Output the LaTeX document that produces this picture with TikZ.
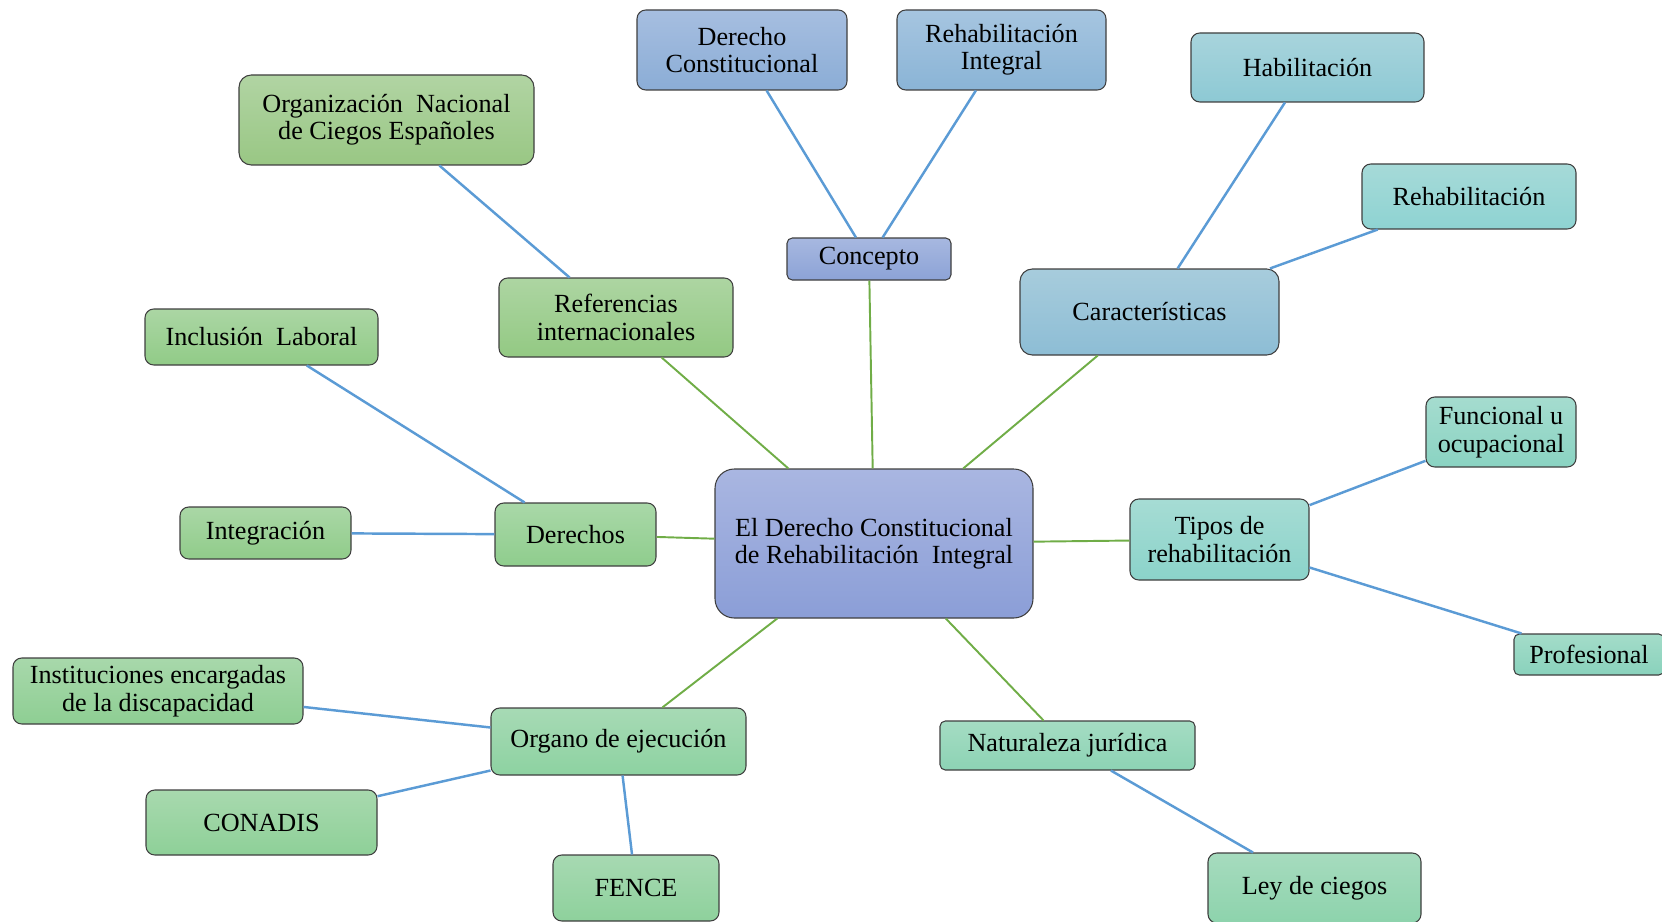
\documentclass[tikz,border=0pt]{standalone}
\usepackage{fontspec}
\setmainfont{Liberation Serif}

\definecolor{edgegray}{HTML}{3F3F3F}
\definecolor{trunkgreen}{HTML}{70AD47}
\definecolor{branchblue}{HTML}{5B9BD5}

\begin{document}
\begin{tikzpicture}[
            x=0.02cm, y=-0.02cm,
            box/.style={draw=edgegray, line width=0.6pt, rounded corners=5pt,
                align=center, inner sep=0pt,
                font=\fontsize{14.9}{15.6}\selectfont},
            sz/.style 2 args={minimum width=#1*0.02cm, minimum height=#2*0.02cm},
            fade/.style 2 args={/utils/exec={\definecolor{fadetop}{HTML}{#1}\definecolor{fadebot}{HTML}{#2}},
                top color=fadetop, bottom color=fadebot},
            trunk/.style={draw=trunkgreen, line width=1.1pt},
            branch/.style={draw=branchblue, line width=1.4pt},
        ]
            \useasboundingbox (0, 0) rectangle (1662, 922);
            \node[box, sz={318}{149}, rounded corners=11pt, fade={A9B6E1}{8B9ED7}] (root) at (874, 543.5) {El Derecho Constitucional\\de Rehabilitaci\'on\ \ Integral};
            \node[box, sz={164}{42}, rounded corners=3pt, fade={A7B8E0}{8CA3D6}] (concepto) at (869, 259) {Concepto};
            \node[box, sz={210}{80}, fade={A6BEE0}{8BADD6}] (dercons) at (742, 50) {Derecho\\Constitucional};
            \node[box, sz={209}{80}, fade={A6C5E0}{8AB4D6}] (rehint) at (1001.5, 50) {Rehabilitaci\'on\\Integral};
            \node[box, sz={259}{86}, rounded corners=7pt, fade={A7CCDC}{8DBDD5}] (caract) at (1149.5, 312) {Caracter\'isticas};
            \node[box, sz={233}{69}, fade={A8D4DC}{8DC9D4}] (habil) at (1307.5, 67.5) {Habilitaci\'on};
            \node[box, sz={214}{65}, fade={A6DAD8}{8ED3D2}] (rehab) at (1469, 196.5) {Rehabilitaci\'on};
            \node[box, sz={179}{81}, fade={A6DCD4}{8BD3CA}] (tipos) at (1219.5, 539.5) {Tipos de\\rehabilitaci\'on};
            \node[box, sz={150}{70}, fade={A5DCCF}{8AD3C2}] (funcional) at (1501, 432) {Funcional u\\ocupacional};
            \node[box, sz={150}{41}, rounded corners=3pt, fade={A4DCC9}{89D2BC}] (profesional) at (1589, 654.5) {Profesional};
            \node[box, sz={255}{49}, rounded corners=3pt, fade={A5DCC3}{8CD3B4}] (naturaleza) at (1067.5, 745.5) {Naturaleza jur\'idica};
            \node[box, sz={213}{70}, fade={A6DBBE}{8DD3AC}] (ley) at (1314.5, 888) {Ley de ciegos};
            \node[box, sz={255}{67}, fade={A7DAB5}{8DD2A1}] (organo) at (618.5, 741.5) {Organo de ejecuci\'on};
            \node[box, sz={166}{66}, fade={A7D9B2}{8ED19C}] (fence) at (636, 888) {FENCE};
            \node[box, sz={231}{65}, fade={A8D9AE}{8ED098}] (conadis) at (261.5, 822.5) {CONADIS};
            \node[box, sz={290}{66}, fade={A8D8AB}{8ECE93}] (instituciones) at (158, 691) {Instituciones encargadas\\de la discapacidad};
            \node[box, sz={161}{63}, fade={A9D8A8}{8FCD8D}] (derechos) at (575.5, 534.5) {Derechos};
            \node[box, sz={171}{52}, fade={AAD7A6}{90CC8A}] (integracion) at (265.5, 533) {Integraci\'on};
            \node[box, sz={233}{56}, fade={ABD6A4}{91CB87}] (inclusion) at (261.5, 337) {Inclusi\'on\ \ Laboral};
            \node[box, sz={234}{79}, fade={ADD5A2}{93C983}] (referencias) at (616, 317.5) {Referencias\\internacionales};
            \node[box, sz={295}{90}, rounded corners=7pt, fade={B1D4A3}{99C784}] (once) at (386.5, 120) {Organizaci\'on\ \ Nacional\\de Ciegos Espa\~noles};
            \path[trunk] (root) edge (concepto) edge (caract) edge (tipos) edge (naturaleza)
                edge (organo) edge (derechos) edge (referencias);
            \path[branch] (concepto) edge (dercons) edge (rehint);
            \path[branch] (caract) edge (habil) edge (rehab);
            \path[branch] (tipos) edge (funcional) edge (profesional);
            \path[branch] (naturaleza) edge (ley);
            \path[branch] (organo) edge (instituciones) edge (conadis) edge (fence);
            \path[branch] (derechos) edge (integracion) edge (inclusion);
            \path[branch] (referencias) edge (once);
        \end{tikzpicture}
\end{document}
